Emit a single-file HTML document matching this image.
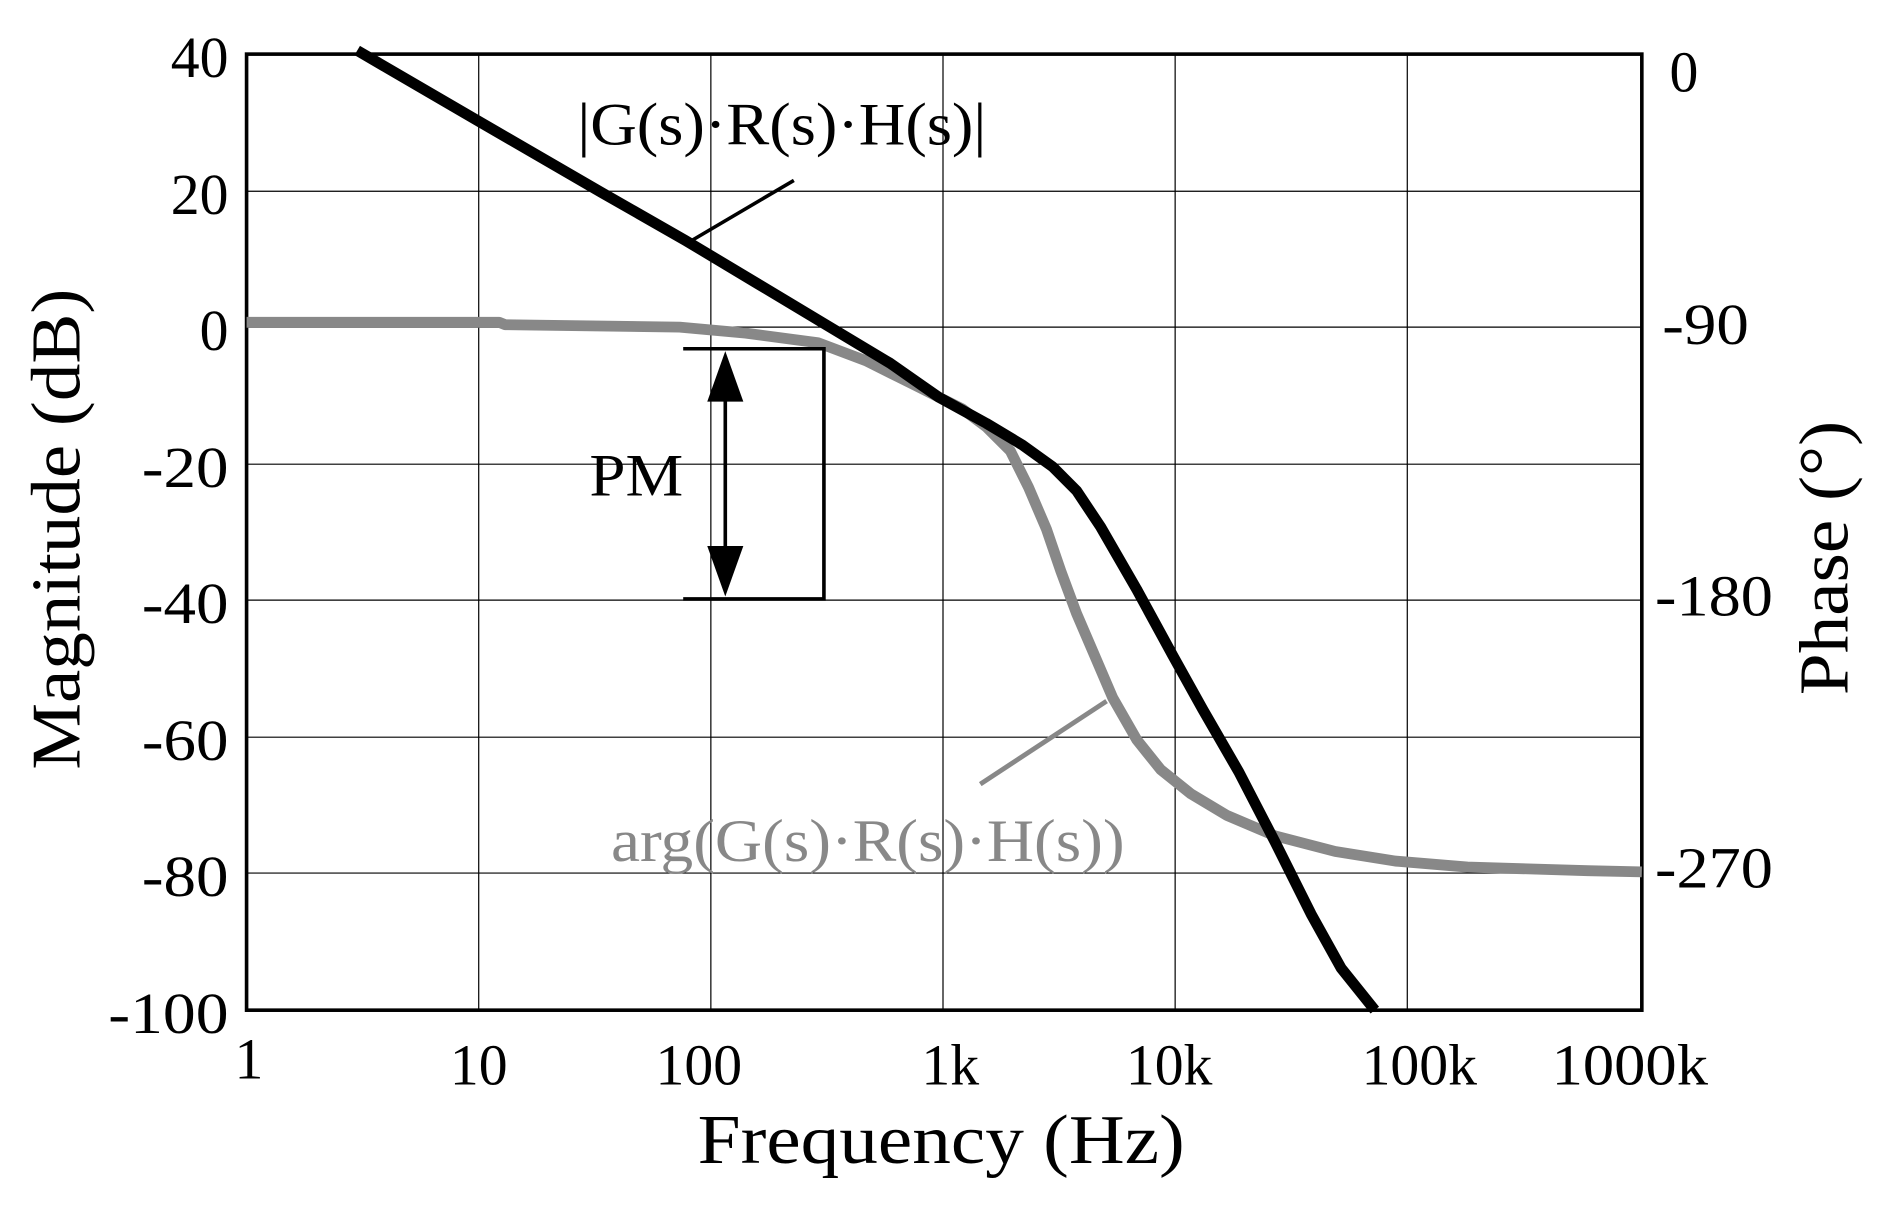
<!DOCTYPE html>
<html><head><style>html,body{margin:0;padding:0;background:#fff}svg{display:block}</style></head>
<body>
<svg width="1886" height="1205" viewBox="0 0 1568 1002" preserveAspectRatio="none" xmlns="http://www.w3.org/2000/svg" font-family="Liberation Serif, serif">
<g stroke="#000" stroke-width="1">
<line x1="205" y1="159" x2="1365" y2="159"/><line x1="205" y1="272" x2="1365" y2="272"/>
<line x1="205" y1="386" x2="1365" y2="386"/><line x1="205" y1="499" x2="1365" y2="499"/>
<line x1="205" y1="613" x2="1365" y2="613"/><line x1="205" y1="726" x2="1365" y2="726"/>
<line x1="398" y1="45" x2="398" y2="840"/><line x1="591" y1="45" x2="591" y2="840"/>
<line x1="784" y1="45" x2="784" y2="840"/><line x1="977" y1="45" x2="977" y2="840"/>
<line x1="1170" y1="45" x2="1170" y2="840"/>
</g>
<rect x="205" y="45" width="1160" height="795" fill="none" stroke="#000" stroke-width="3"/>
<polyline fill="none" stroke="#888" stroke-width="9" stroke-linejoin="round" points="205,268 415,268 420,270 565,272 620,277 680,285 720,300 760,320 800,340 820,355 840,375 855,405 870,440 882,475 895,510 910,545 925,580 945,615 965,640 990,660 1020,678 1060,695 1110,708 1160,716 1220,721 1320,724 1365,725"/>
<polyline fill="none" stroke="#000" stroke-width="9" stroke-linejoin="round" points="297,42 400,102 500,160 570,200 630,236 690,272 740,302 780,330 820,352 850,370 875,388 895,408 915,438 945,490 975,545 1000,590 1030,642 1060,700 1090,760 1115,805 1143,840"/>
<g stroke="#000" stroke-width="3" fill="none">
<polyline points="568,290 685,290 685,498 568,498"/>
<line x1="603" y1="320" x2="603" y2="470"/>
</g>
<polygon points="603,292 588,334 618,334" fill="#000"/>
<polygon points="603,496 588,454 618,454" fill="#000"/>
<line x1="660" y1="150" x2="570" y2="203" stroke="#000" stroke-width="3"/>
<line x1="920" y1="583" x2="815" y2="652" stroke="#888" stroke-width="4"/>
<g font-size="50" fill="#000" lengthAdjust="spacingAndGlyphs">
<text x="480" y="120" textLength="340" lengthAdjust="spacingAndGlyphs">|G(s)·R(s)·H(s)|</text>
<text x="490" y="412" textLength="78" lengthAdjust="spacingAndGlyphs">PM</text>
<text x="508" y="716" fill="#888" textLength="427" lengthAdjust="spacingAndGlyphs">arg(G(s)·R(s)·H(s))</text>
</g>
<g font-size="48" text-anchor="end">
<text x="190" y="64">40</text><text x="190" y="178">20</text><text x="190" y="291">0</text>
<text x="190" y="405" textLength="72" lengthAdjust="spacingAndGlyphs">-20</text><text x="190" y="518" textLength="72" lengthAdjust="spacingAndGlyphs">-40</text><text x="190" y="632" textLength="72" lengthAdjust="spacingAndGlyphs">-60</text>
<text x="190" y="745" textLength="72" lengthAdjust="spacingAndGlyphs">-80</text><text x="190" y="859" textLength="100" lengthAdjust="spacingAndGlyphs">-100</text>
</g>
<g font-size="48">
<text x="1388" y="76">0</text><text x="1382" y="286" textLength="72" lengthAdjust="spacingAndGlyphs">-90</text>
<text x="1376" y="512" textLength="98" lengthAdjust="spacingAndGlyphs">-180</text><text x="1376" y="738" textLength="98" lengthAdjust="spacingAndGlyphs">-270</text>
</g>
<g font-size="48" text-anchor="middle">
<text x="207" y="897">1</text><text x="398" y="902">10</text><text x="581" y="902">100</text>
<text x="790" y="902">1k</text><text x="972" y="902">10k</text><text x="1180" y="902">100k</text>
<text x="1355" y="902" textLength="130" lengthAdjust="spacingAndGlyphs">1000k</text>
</g>
<text x="580" y="967" font-size="58" textLength="405" lengthAdjust="spacingAndGlyphs">Frequency (Hz)</text>
<text transform="translate(66,640) rotate(-90)" font-size="58" textLength="400" lengthAdjust="spacingAndGlyphs">Magnitude (dB)</text>
<text transform="translate(1536,578) rotate(-90)" font-size="58" textLength="228" lengthAdjust="spacingAndGlyphs">Phase (°)</text>
</svg>
</body></html>
